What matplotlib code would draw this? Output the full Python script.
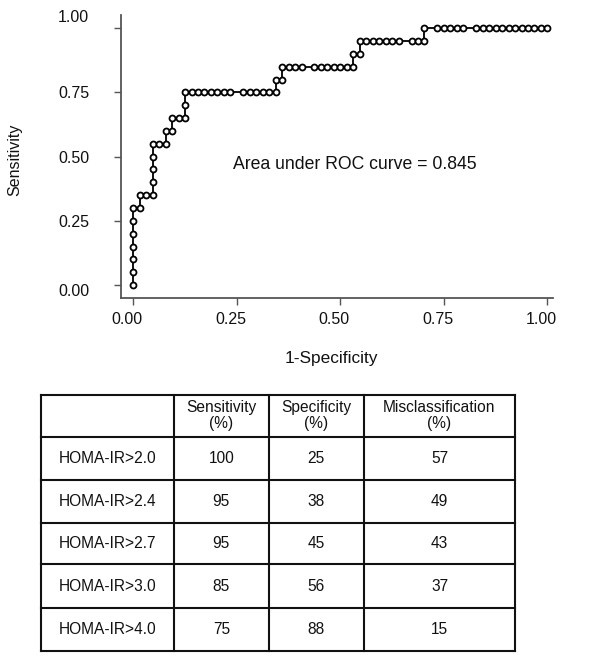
import matplotlib
matplotlib.use('Agg')
import matplotlib.pyplot as plt
import matplotlib.transforms as mtrans
import numpy as np

plt.rcParams['font.family'] = ['Liberation Sans', 'DejaVu Sans']

# ROC points: false positives (of 64 negatives) and true positives (of 20 positives)
n_neg = 64
n_pos = 20
fp_counts = [0, 0, 0, 0, 0, 0, 0,
             1, 1, 2, 3,
             3, 3, 3, 3,
             4, 5,
             5, 6,
             6, 7, 8,
             8,
             8, 9, 10, 11, 12, 13, 14, 15, 17, 18, 19, 20, 21, 22,
             22, 23,
             23, 24, 25, 26, 28, 29, 30, 31, 32, 33, 34,
             34, 35,
             35, 36, 37, 38, 39, 40, 41, 43, 44, 45,
             45, 47, 48, 49, 50, 51, 53, 54, 55, 56, 57, 58, 59, 60, 61, 62, 63, 64]
tp_counts = [0, 1, 2, 3, 4, 5, 6,
             6, 7, 7, 7,
             8, 9, 10, 11,
             11, 11,
             12, 12,
             13, 13, 13,
             14,
             15, 15, 15, 15, 15, 15, 15, 15, 15, 15, 15, 15, 15, 15,
             16, 16,
             17, 17, 17, 17, 17, 17, 17, 17, 17, 17, 17,
             18, 18,
             19, 19, 19, 19, 19, 19, 19, 19, 19, 19,
             20, 20, 20, 20, 20, 20, 20, 20, 20, 20, 20, 20, 20, 20, 20, 20, 20, 20]
auc_text = 'Area under ROC curve = 0.845'
tick_vals = [0, 0.25, 0.5, 0.75, 1.0]
tick_labels = ['0.00', '0.25', '0.50', '0.75', '1.00']

# table data
col_headers = ['', 'Sensitivity\n(%)', 'Specificity\n(%)', 'Misclassification\n(%)']
row_labels = ['HOMA-IR>2.0', 'HOMA-IR>2.4', 'HOMA-IR>2.7', 'HOMA-IR>3.0', 'HOMA-IR>4.0']
sensitivity = [100, 95, 95, 85, 75]
specificity = [25, 38, 45, 56, 88]
misclass = [57, 49, 43, 37, 15]

W, H = 602, 659
txt = '#111111'
fig = plt.figure(figsize=(W / 100, H / 100), dpi=100)

# pixel overlay for the table and axis titles
bg = fig.add_axes([0, 0, 1, 1])
bg.set_xlim(0, W)
bg.set_ylim(H, 0)
bg.axis('off')

ax = fig.add_axes([121 / W, 1 - 298 / H, (552.7 - 121) / W, (298 - 15) / H])
fpr = np.array(fp_counts) / n_neg
tpr = np.array(tp_counts) / n_pos
ax.plot(fpr, tpr, color='black', lw=1.3, marker='o', ms=4.3,
        mfc='white', mec='black', mew=1.3, clip_on=False)
ax.set_xlim(-0.0297, 1.0127)
ax.set_ylim(-0.0506, 1.0518)
ax.set_xticks(tick_vals)
ax.set_yticks(tick_vals)
ax.set_xticklabels(tick_labels)
ax.set_yticklabels(tick_labels)
for s in ['top', 'right']:
    ax.spines[s].set_visible(False)
for s in ['left', 'bottom']:
    ax.spines[s].set_color('#555555')
    ax.spines[s].set_linewidth(1.3)
ax.tick_params(axis='both', colors='#555555', length=5, width=1.0,
               labelsize=11.5, labelcolor=txt)
ax.tick_params(axis='y', pad=18)
ax.tick_params(axis='x', pad=5)
ax.patch.set_alpha(0)

# the source figure has its tick labels slightly off the ticks
for t in ax.xaxis.get_major_ticks():
    t.label1.set_transform(t.label1.get_transform() +
                           mtrans.ScaledTranslation(-6 / 100, 0, fig.dpi_scale_trans))
yt = ax.yaxis.get_major_ticks()
yt[-1].label1.set_transform(yt[-1].label1.get_transform() +
                            mtrans.ScaledTranslation(0, 12 / 100, fig.dpi_scale_trans))
yt[0].label1.set_transform(yt[0].label1.get_transform() +
                           mtrans.ScaledTranslation(0, -5 / 100, fig.dpi_scale_trans))

ax.text(0.535, 0.47, auc_text, ha='center', va='center', fontsize=12.7, color=txt)

bg.text(15, 160, 'Sensitivity', rotation=90, ha='center', va='center', fontsize=11.5, color=txt)
bg.text(331, 359, '1-Specificity', ha='center', va='center', fontsize=12.4, color=txt)

# table
col_x = [41, 174, 268.7, 364, 515]
row_y = [395, 436.7, 480, 523.3, 564.3, 608.3, 650.7]
lc = '#111111'
for x in col_x:
    bg.plot([x, x], [row_y[0], row_y[-1]], color=lc, lw=1.5)
for y in row_y:
    bg.plot([col_x[0], col_x[-1]], [y, y], color=lc, lw=1.5)

for j, h in enumerate(col_headers):
    cx = (col_x[j] + col_x[j + 1]) / 2
    bg.text(cx, (row_y[0] + row_y[1]) / 2, h, ha='center', va='center',
            fontsize=11.2, color=txt, linespacing=1.1)

for i, lab in enumerate(row_labels):
    cy = (row_y[i + 1] + row_y[i + 2]) / 2
    vals = [lab, sensitivity[i], specificity[i], misclass[i]]
    for j, v in enumerate(vals):
        cx = (col_x[j] + col_x[j + 1]) / 2
        bg.text(cx, cy, str(v), ha='center', va='center', fontsize=11.2, color=txt)

fig.savefig('out.png', dpi=100)
